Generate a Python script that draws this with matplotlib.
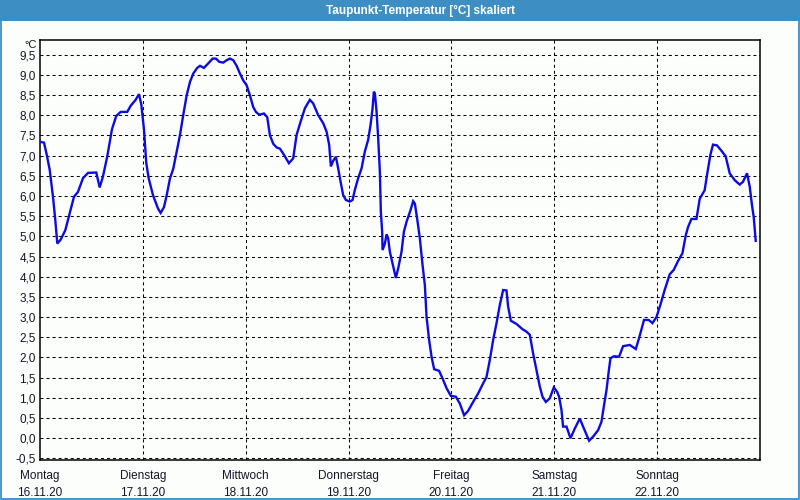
import matplotlib
matplotlib.use("Agg")
import matplotlib.pyplot as plt
from matplotlib.patches import Rectangle

# ---- data ----
hours = [0.0, 0.93, 1.47, 2.26, 3.03, 3.57, 4.04, 4.83, 5.90, 6.93, 7.93, 8.86, 10.03, 11.20,
         13.13, 13.92, 14.69, 15.70, 16.79, 17.80, 18.82, 20.36, 21.15, 22.32, 23.09, 23.63,
         24.26, 24.79, 25.35, 26.36, 27.52, 28.15, 28.92, 29.55, 30.32, 31.09, 31.88, 32.65,
         33.42, 34.22, 34.99, 35.76, 36.69, 37.32, 38.25, 39.25, 40.28, 41.05, 41.82, 42.75,
         43.55, 44.32, 45.09, 45.88, 46.65, 47.42, 48.21, 48.98, 49.75, 50.38, 51.15, 52.25,
         53.02, 53.65, 54.42, 55.21, 55.98, 56.91, 58.08, 59.08, 59.87, 60.81, 61.81, 62.97,
         63.74, 64.91, 66.08, 66.87, 67.48, 67.87, 68.41, 69.04, 69.58, 70.14, 70.74, 71.37,
         72.30, 72.93, 73.47, 74.24, 75.03, 75.80, 76.57, 77.13, 77.60, 77.90, 78.14, 78.53,
         78.91, 79.30, 79.53, 79.84, 79.93, 80.47, 80.87, 81.24, 81.63, 82.26, 83.03, 83.57,
         84.36, 84.90, 85.53, 86.46, 87.07, 87.47, 88.00, 88.63, 89.26, 89.80, 90.19, 90.80,
         91.36, 91.97, 93.13, 93.93, 94.86, 95.86, 97.03, 97.96, 98.96, 99.90, 101.06, 102.23,
         103.40, 104.19, 104.96, 105.73, 106.52, 107.29, 108.06, 108.85, 109.23, 109.86,
         111.19, 112.59, 113.52, 114.29, 115.06, 115.85, 116.62, 117.25, 118.02, 118.95,
         119.89, 120.66, 121.12, 121.68, 122.05, 122.85, 123.78, 124.78, 125.95, 126.72,
         128.12, 129.05, 130.22, 131.01, 131.55, 132.18, 132.79, 133.11, 133.88, 135.12,
         136.05, 137.61, 139.01, 139.78, 140.94, 142.04, 142.90, 143.84, 144.77, 145.78,
         146.94, 147.88, 148.88, 149.90, 150.67, 151.21, 152.00, 153.17, 153.94, 155.08,
         155.64, 156.43, 157.03, 157.97, 158.99, 159.99, 160.93, 162.10, 163.26, 164.03,
         164.97, 165.60, 166.13, 166.53, 167.00]
dewpoint = [7.34, 7.32, 7.07, 6.65, 5.98, 5.40, 4.82, 4.92, 5.15, 5.57, 5.98, 6.10, 6.44, 6.57,
            6.58, 6.21, 6.48, 6.98, 7.65, 7.98, 8.08, 8.08, 8.23, 8.38, 8.52, 8.27,
            7.65, 6.82, 6.44, 6.02, 5.69, 5.58, 5.72, 6.01, 6.43, 6.67, 7.09, 7.50,
            8.00, 8.49, 8.82, 9.03, 9.17, 9.22, 9.17, 9.28, 9.40, 9.40, 9.32, 9.30,
            9.36, 9.40, 9.36, 9.22, 9.03, 8.86, 8.74, 8.49, 8.20, 8.08, 8.01, 8.04,
            7.95, 7.50, 7.29, 7.20, 7.17, 7.02, 6.81, 6.93, 7.51, 7.84, 8.17, 8.38,
            8.29, 8.00, 7.80, 7.59, 7.26, 6.73, 6.87, 6.97, 6.68, 6.35, 6.02, 5.90,
            5.86, 5.90, 6.15, 6.44, 6.68, 7.10, 7.39, 7.76, 8.17, 8.58, 8.54, 8.09,
            7.43, 6.60, 5.61, 5.11, 4.66, 4.82, 5.05, 4.95, 4.62, 4.33, 3.97, 4.20,
            4.62, 5.11, 5.36, 5.65, 5.87, 5.81, 5.44, 4.95, 4.29, 3.79, 3.01, 2.43,
            2.02, 1.71, 1.67, 1.48, 1.24, 1.05, 1.03, 0.86, 0.57, 0.68, 0.90, 1.11,
            1.36, 1.52, 1.94, 2.43, 2.85, 3.30, 3.67, 3.66, 3.26, 2.91,
            2.83, 2.70, 2.64, 2.56, 2.10, 1.69, 1.28, 1.03, 0.90, 0.99,
            1.26, 1.15, 1.03, 0.70, 0.29, 0.29, 0.00, 0.24, 0.49, 0.29,
            -0.06, 0.04, 0.20, 0.41, 0.78, 1.19, 1.73, 1.98, 2.03, 2.02,
            2.28, 2.31, 2.21, 2.48, 2.93, 2.93, 2.85, 3.00, 3.31, 3.68,
            4.06, 4.17, 4.39, 4.58, 5.02, 5.23, 5.43, 5.43, 5.93, 6.14,
            6.52, 7.02, 7.27, 7.25, 7.12, 6.98, 6.56, 6.39, 6.28, 6.35,
            6.56, 6.23, 5.77, 5.48, 4.89]
day_names = ["Montag", "Dienstag", "Mittwoch", "Donnerstag", "Freitag", "Samstag", "Sonntag"]
day_dates = ["16.11.20", "17.11.20", "18.11.20", "19.11.20", "20.11.20", "21.11.20", "22.11.20"]
y_ticks = [-0.5 + 0.5 * i for i in range(21)]
title = "Taupunkt-Temperatur [°C] skaliert"

W, H = 800, 500
BG = "#fcfefc"
BLUE_BAR = "#3d8fc3"
TXT = "#14142a"

plt.rcParams["font.family"] = ["Liberation Sans", "DejaVu Sans"]

fig = plt.figure(figsize=(W / 100, H / 100), dpi=100, facecolor=BG)

# title bar and frame
fig.patches.append(Rectangle((0, 1 - 20.5 / H), 1, 20.5 / H, transform=fig.transFigure,
                             facecolor=BLUE_BAR, edgecolor="none", zorder=0))
fig.patches.append(Rectangle((0.6 / W, 0.6 / H), 1 - 1.2 / W, 1 - 1.2 / H, transform=fig.transFigure,
                             facecolor="none", edgecolor=BLUE_BAR, lw=1.3, zorder=1))
fig.text(420 / W, 1 - 10.5 / H, title, color="white", fontsize=8.5, fontweight="bold",
         ha="center", va="center")

ax = fig.add_axes([40 / W, 1 - 460.3 / H, 720 / W, 420.3 / H])
ax.set_facecolor(BG)
ax.plot(hours, dewpoint, color="#0c0ce0", lw=1.7, solid_joinstyle="miter", zorder=3)

ax.set_xlim(0, 168)
ax.set_ylim(-0.545, 9.86)

ax.set_yticks(y_ticks)
ax.set_yticklabels([f"{v:.1f}".replace(".", ",") for v in y_ticks])
ax.set_xticks([24 * i for i in range(7)])
ax.set_xticklabels([f"{n}\n{d}" for n, d in zip(day_names, day_dates)], linespacing=1.6)
ax.tick_params(axis="both", length=0, labelsize=8.5, colors=TXT)
ax.tick_params(axis="y", pad=3)
ax.tick_params(axis="x", pad=7)

for v in y_ticks:
    ax.axhline(v, color="black", lw=0.75, ls=(0, (2.9, 2.9)), zorder=1)
for i in range(1, 7):
    ax.axvline(24 * i, color="black", lw=0.75, ls=(0, (2.9, 2.9)), zorder=1)

for s in ax.spines.values():
    s.set_color("black")
    s.set_linewidth(1.1)

fig.text(37 / W, 1 - 48.5 / H, "°C", color=TXT, fontsize=8, ha="right", va="baseline")

fig.savefig("out.png", dpi=100, facecolor=BG)
